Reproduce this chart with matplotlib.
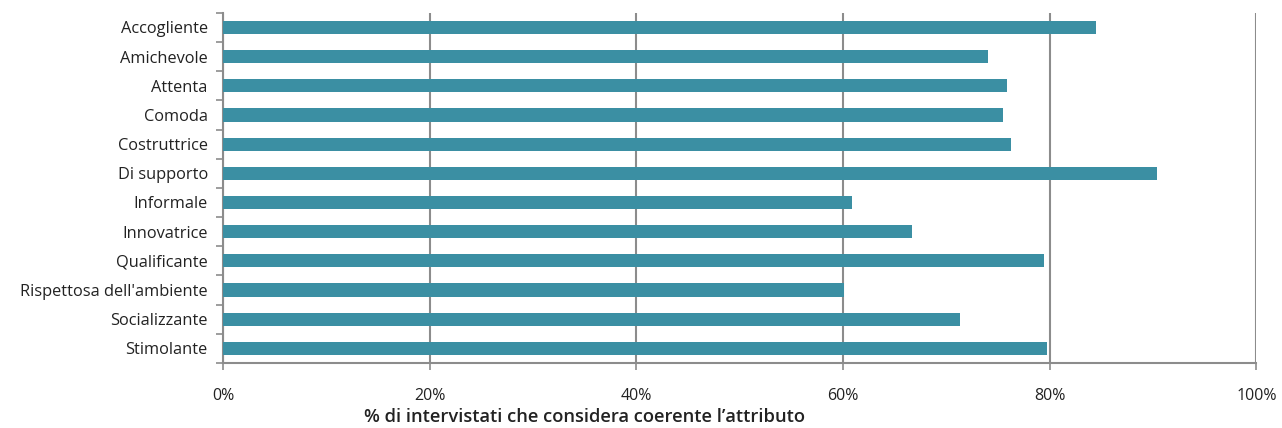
import matplotlib.pyplot as plt
import numpy as np

categories = ['Accogliente', 'Amichevole', 'Attenta', 'Comoda', 'Costruttrice',
              'Di supporto', 'Informale', 'Innovatrice', 'Qualificante',
              "Rispettosa dell'ambiente", 'Socializzante', 'Stimolante']
values = [84.5, 74.0, 75.9, 75.5, 76.3, 90.4, 60.9, 66.7, 79.4, 60.1, 71.3, 79.7]
xticks = [0, 20, 40, 60, 80, 100]
xlabel = '% di intervistati che considera coerente l\u2019attributo'

plt.rcParams['font.family'] = ['Open Sans', 'DejaVu Sans']

fig = plt.figure(figsize=(12.82, 4.28), dpi=100)
ax = fig.add_axes([0.174, 0.152, 0.806, 0.818])

y = np.arange(len(categories))
ax.barh(y, values, height=0.45, color='#3b8fa3', zorder=3)

ax.set_xlim(0, 100)
ax.set_ylim(len(categories) - 0.5, -0.5)

# gridlines at every tick
ax.set_xticks(xticks)
ax.set_xticklabels(['%d%%' % t for t in xticks], fontsize=11.5, color='#222222')
ax.xaxis.grid(True, color='#8c8c8c', linewidth=1.5, zorder=0)
ax.tick_params(axis='x', length=5, width=1.2, color='#8c8c8c', pad=13)

# category labels, ticks between the bars
ax.set_yticks(y)
ax.set_yticklabels(categories, fontsize=11.8, color='#222222')
ax.set_yticks(np.arange(len(categories) + 1) - 0.5, minor=True)
ax.tick_params(axis='y', which='major', length=0, pad=11)
ax.tick_params(axis='y', which='minor', length=5, width=1.2, color='#8c8c8c')

for s in ['top', 'right']:
    ax.spines[s].set_visible(False)
for s in ['left', 'bottom']:
    ax.spines[s].set_color('#8c8c8c')
    ax.spines[s].set_linewidth(1.5)
ax.spines['bottom'].set_bounds(0, 100)

ax.set_xlabel(xlabel, fontsize=13.2, fontweight='semibold', color='#222222')
ax.xaxis.set_label_coords(0.35, -0.13)

fig.savefig('out.png', dpi=100)
